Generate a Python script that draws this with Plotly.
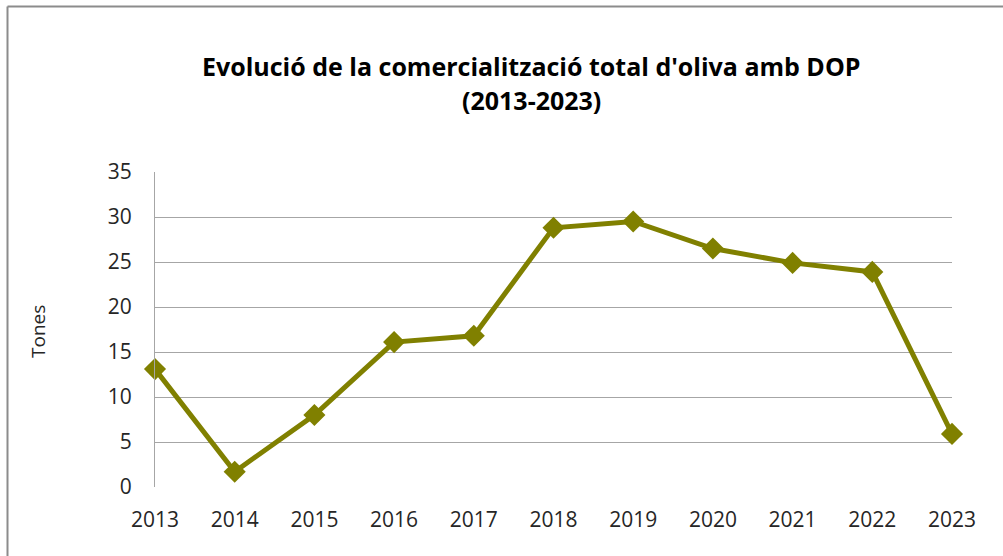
import plotly.graph_objects as go

years = [2013, 2014, 2015, 2016, 2017, 2018, 2019, 2020, 2021, 2022, 2023]
tones = [13.1, 1.7, 8.0, 16.1, 16.8, 28.8, 29.5, 26.5, 24.9, 23.9, 5.9]
title_line1 = "Evolució de la comercialització total d'oliva amb DOP"
title_line2 = "(2013-2023)"
y_label = "Tones"

W, H = 1003, 556
L, R, T, B = 155, 51, 172, 69
pw, ph = W - L - R, H - T - B


def px_x(x):
    return (x - L) / pw


def px_y(y):
    return 1 - (y - T) / ph


olive = "#808000"
font = "Open Sans"

fig = go.Figure(
    go.Scatter(
        x=years,
        y=tones,
        mode="lines+markers",
        line=dict(color=olive, width=5),
        marker=dict(symbol="diamond", size=17, color=olive),
        cliponaxis=False,
    )
)

fig.update_layout(
    width=W,
    height=H,
    margin=dict(l=L, r=R, t=T, b=B),
    paper_bgcolor="white",
    plot_bgcolor="white",
    showlegend=False,
    font=dict(family=font, size=21, color="#262626"),
    xaxis=dict(
        range=[2013, 2023],
        tickmode="array",
        tickvals=years,
        ticktext=[str(y) for y in years],
        showgrid=False,
        zeroline=False,
        showline=False,
        ticks="",
        ticklabelstandoff=18,
    ),
    yaxis=dict(
        range=[0, 35],
        dtick=5,
        showgrid=True,
        gridcolor="#a6a6a6",
        gridwidth=1,
        zeroline=False,
        showline=True,
        linecolor="#a6a6a6",
        linewidth=1,
        ticks="",
        ticklabelstandoff=18,
    ),
)

title_font = dict(family=font, size=25, color="black")
fig.add_annotation(text=f"<b>{title_line1}</b>", x=px_x(531), y=px_y(66), xref="paper", yref="paper",
                   xanchor="center", yanchor="middle", showarrow=False, font=title_font)
fig.add_annotation(text=f"<b>{title_line2}</b>", x=px_x(531), y=px_y(100), xref="paper", yref="paper",
                   xanchor="center", yanchor="middle", showarrow=False, font=title_font)
fig.add_annotation(text=y_label, textangle=-90, x=px_x(38), y=px_y(332), xref="paper", yref="paper",
                   xanchor="center", yanchor="middle", showarrow=False,
                   font=dict(family=font, size=19, color="#262626"))

# chart frame (top and left edges visible)
border = dict(color="#8c8c8c", width=2)
fig.add_shape(type="line", xref="paper", yref="paper", x0=px_x(7.5), x1=px_x(W), y0=px_y(6.5), y1=px_y(6.5), line=border)
fig.add_shape(type="line", xref="paper", yref="paper", x0=px_x(7.5), x1=px_x(7.5), y0=px_y(6.5), y1=px_y(H), line=border)

fig.write_html("out.html", config={"displayModeBar": False},
               post_script="document.body.style.margin='0';")
